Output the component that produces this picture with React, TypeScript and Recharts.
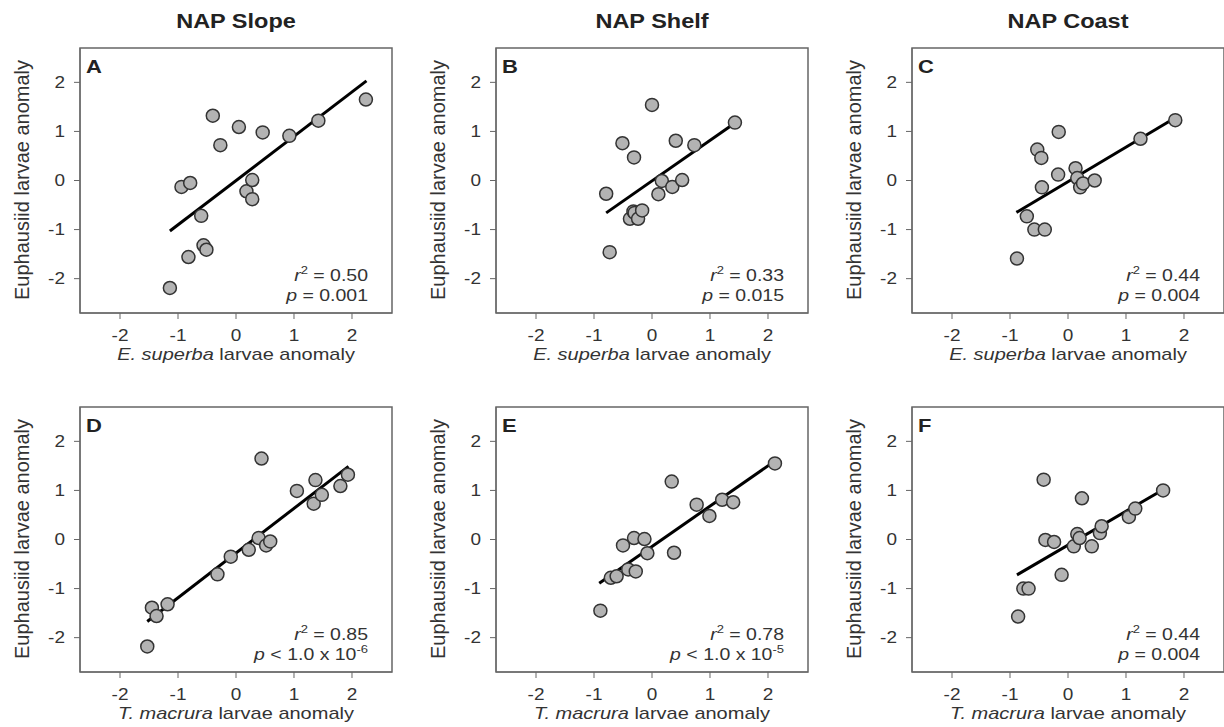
import { ScatterChart, Scatter, XAxis, YAxis, ReferenceLine, ReferenceArea } from 'recharts';

const ticks = [-2, -1, 0, 1, 2];
const regions = ['NAP Slope', 'NAP Shelf', 'NAP Coast'];
const species = ['E. superba', 'T. macrura'];

// A: slope vs E. superba
const aX = [-1.14, -0.94, -0.79, -0.82, -0.6, -0.56, -0.51, -0.4, -0.27, 0.05, 0.18, 0.28, 0.28, 0.46, 0.92, 1.42, 2.24];
const aY = [-2.19, -0.13, -0.05, -1.56, -0.72, -1.32, -1.41, 1.32, 0.72, 1.09, -0.22, 0.01, -0.38, 0.98, 0.91, 1.22, 1.65];
const aFit = [[-1.14, -1.03], [2.25, 2.03]];

// B: shelf vs E. superba
const bX = [-0.79, -0.73, -0.51, -0.31, -0.38, -0.32, -0.3, -0.24, -0.17, 0.0, 0.11, 0.17, 0.35, 0.41, 0.52, 0.73, 1.43];
const bY = [-0.27, -1.46, 0.76, 0.47, -0.78, -0.63, -0.66, -0.78, -0.61, 1.54, -0.28, -0.01, -0.13, 0.81, 0.01, 0.72, 1.18];
const bFit = [[-0.79, -0.66], [1.43, 1.17]];

// C: coast vs E. superba
const cX = [-0.88, -0.71, -0.58, -0.4, -0.53, -0.46, -0.45, -0.17, -0.16, 0.13, 0.16, 0.21, 0.26, 0.46, 1.25, 1.85];
const cY = [-1.59, -0.73, -1.0, -1.0, 0.63, 0.46, -0.14, 0.12, 0.99, 0.25, 0.05, -0.14, -0.06, 0.0, 0.85, 1.23];
const cFit = [[-0.89, -0.65], [1.85, 1.28]];

// D: slope vs T. macrura
const dX = [-1.53, -1.45, -1.37, -1.18, -0.32, -0.09, 0.22, 0.39, 0.44, 0.52, 0.59, 1.05, 1.34, 1.37, 1.48, 1.8, 1.93];
const dY = [-2.18, -1.39, -1.56, -1.32, -0.71, -0.35, -0.21, 0.03, 1.65, -0.12, -0.04, 0.99, 0.73, 1.21, 0.91, 1.09, 1.32];
const dFit = [[-1.53, -1.67], [1.94, 1.49]];

// E: shelf vs T. macrura
const eX = [-0.89, -0.71, -0.61, -0.5, -0.41, -0.28, -0.31, -0.13, -0.08, 0.34, 0.38, 0.77, 0.99, 1.21, 1.4, 2.12];
const eY = [-1.45, -0.78, -0.75, -0.12, -0.61, -0.65, 0.03, 0.01, -0.28, 1.18, -0.27, 0.71, 0.48, 0.81, 0.76, 1.55];
const eFit = [[-0.91, -0.89], [2.12, 1.6]];

// F: coast vs T. macrura
const fX = [-0.86, -0.77, -0.68, -0.42, -0.39, -0.24, -0.11, 0.1, 0.16, 0.2, 0.24, 0.41, 0.55, 0.58, 1.05, 1.16, 1.64];
const fY = [-1.57, -1.0, -1.0, 1.22, -0.01, -0.05, -0.72, -0.14, 0.11, 0.03, 0.84, -0.14, 0.13, 0.27, 0.46, 0.63, 1.0];
const fFit = [[-0.88, -0.72], [1.63, 1.01]];

const panels = [
  { letter: 'A', xs: aX, ys: aY, fit: aFit, r2: '0.50', p: '= 0.001', exp: '' },
  { letter: 'B', xs: bX, ys: bY, fit: bFit, r2: '0.33', p: '= 0.015', exp: '' },
  { letter: 'C', xs: cX, ys: cY, fit: cFit, r2: '0.44', p: '= 0.004', exp: '' },
  { letter: 'D', xs: dX, ys: dY, fit: dFit, r2: '0.85', p: '< 1.0 x 10', exp: '-6' },
  { letter: 'E', xs: eX, ys: eY, fit: eFit, r2: '0.78', p: '< 1.0 x 10', exp: '-5' },
  { letter: 'F', xs: fX, ys: fY, fit: fFit, r2: '0.44', p: '= 0.004', exp: '' },
];

const XD = [-2.69, 2.69];
const YD = [-2.7, 2.7];
const FONT = '"Liberation Sans", Arial, Helvetica, sans-serif';
const SY = 0.85; // the source figure's text is a bit flattened

const at = (x: number, y: number) => `translate(${x},${y}) scale(1,${SY})`;

const XTick = (props: any) => (
  <text transform={at(props.x, props.y + 13.5)} textAnchor="middle" fill="#333" fontSize={19} fontFamily={FONT}>
    {props.payload.value}
  </text>
);

const YTick = (props: any) => (
  <text transform={at(props.x, props.y + 5.8)} textAnchor="end" fill="#333" fontSize={19} fontFamily={FONT}>
    {props.payload.value}
  </text>
);

const Dot = (props: any) => (
  <circle cx={props.cx} cy={props.cy} r={6.5} fill="#b3b3b3" stroke="#333" strokeWidth={1.5} />
);

function Panel({ p, i }: { p: (typeof panels)[number]; i: number }) {
  const col = i % 3;
  const row = Math.floor(i / 3);
  const data = p.xs.map((x, k) => ({ x, y: p.ys[k] }));
  return (
    <div style={{ position: 'absolute', left: col * 416, top: row * 359, width: 416, height: 359 }}>
      <ScatterChart width={416} height={359} margin={{ top: 48, right: 24, bottom: 0, left: 0 }}>
        <XAxis
          type="number"
          dataKey="x"
          domain={XD}
          ticks={ticks}
          allowDataOverflow
          height={46}
          tickSize={6}
          tickMargin={8}
          stroke="#666"
          tick={XTick}
        />
        <YAxis
          type="number"
          dataKey="y"
          domain={YD}
          ticks={ticks}
          allowDataOverflow
          width={80}
          tickSize={6}
          tickMargin={9}
          stroke="#666"
          tick={YTick}
        />
        <ReferenceArea x1={XD[0]} x2={XD[1]} y1={YD[0]} y2={YD[1]} fill="none" stroke="#666" strokeWidth={1.5} />
        <Scatter data={data} shape={Dot} isAnimationActive={false} />
        <ReferenceLine
          segment={[{ x: p.fit[0][0], y: p.fit[0][1] }, { x: p.fit[1][0], y: p.fit[1][1] }]}
          stroke="#000"
          strokeWidth={3}
        />
      </ScatterChart>
      <svg
        width={416}
        height={359}
        style={{ position: 'absolute', left: 0, top: 0, pointerEvents: 'none', overflow: 'visible' }}
      >
        <g fontFamily={FONT} fill="#222">
          {row === 0 && (
            <text transform={at(236, 28)} textAnchor="middle" fontSize={23.5} fontWeight="bold">
              {regions[col]}
            </text>
          )}
          <text transform={at(86, 73)} fontSize={22} fontWeight="bold">
            {p.letter}
          </text>
          <text x={29} y={180} textAnchor="middle" fontSize={20} fill="#333" transform="rotate(-90, 29, 180)">
            Euphausiid larvae anomaly
          </text>
          <text transform={at(236, 359.5)} textAnchor="middle" fontSize={20} fill="#333">
            <tspan fontStyle="italic">{species[row]}</tspan> larvae anomaly
          </text>
          <text transform={at(368, 281)} textAnchor="end" fontSize={19.5} fill="#333">
            <tspan fontStyle="italic">r</tspan>
            <tspan dy={-8} fontSize={13}>2</tspan>
            <tspan dy={8}> = {p.r2}</tspan>
          </text>
          <text transform={at(368, 301)} textAnchor="end" fontSize={19.5} fill="#333">
            <tspan fontStyle="italic">p</tspan> {p.p}
            {p.exp && (
              <tspan dy={-8} fontSize={13}>
                {p.exp}
              </tspan>
            )}
          </text>
        </g>
      </svg>
    </div>
  );
}

export default function App() {
  return (
    <div
      style={{
        position: 'absolute',
        left: 0,
        top: 0,
        width: 1224,
        height: 727,
        overflow: 'hidden',
        background: '#fff',
        fontFamily: FONT,
      }}
    >
      {panels.map((p, i) => (
        <Panel key={p.letter} p={p} i={i} />
      ))}
    </div>
  );
}
